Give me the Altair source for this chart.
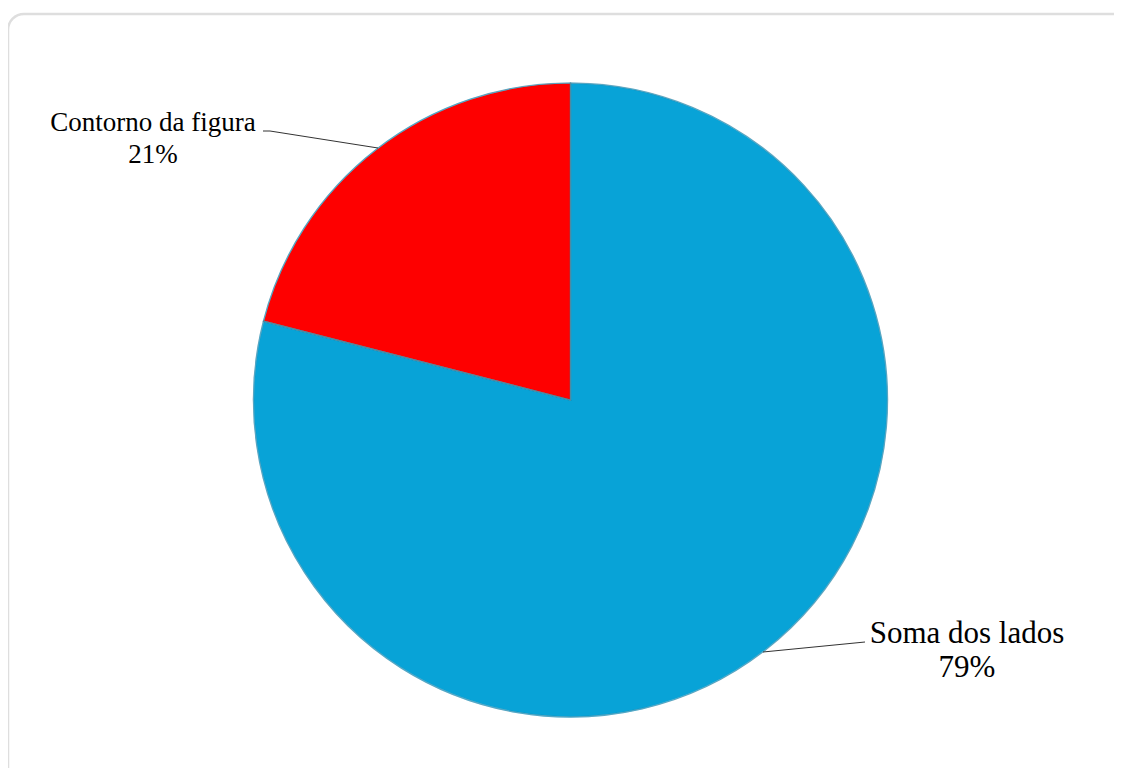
import altair as alt
import pandas as pd

categories = ["Soma dos lados", "Contorno da figura"]
values = [79, 21]
colors = ["#08A3D7", "#FE0000"]

df = pd.DataFrame({
    "categoria": categories,
    "valor": values,
    "ordem": list(range(len(categories))),
})
df["pct"] = df["valor"].astype(str) + "%"

W, H = 1106, 760
CX, CY, R = 562.5, 392, 317
FONT = "Liberation Serif"

frame = alt.Chart(pd.DataFrame({"a": [0]})).mark_rect(
    fill=None, stroke="#DEDEDE", strokeWidth=2.5, cornerRadius=16
).encode(x=alt.value(0), x2=alt.value(W + 40), y=alt.value(6), y2=alt.value(H + 40))

base = alt.Chart(df)

pie = base.mark_arc(radius=R, stroke="#5fd0f5", strokeWidth=1.2, strokeJoin="round").encode(
    theta=alt.Theta("valor:Q", stack=True),
    color=alt.Color("categoria:N", scale=alt.Scale(domain=categories, range=colors), legend=None),
    order=alt.Order("ordem:Q"),
    x=alt.value(CX), y=alt.value(CY),
)

rim = base.mark_arc(radius=R, fill=None, stroke="#3a4a55", strokeOpacity=0.3, strokeWidth=1.5).encode(
    theta=alt.Theta("valor:Q", stack=True),
    order=alt.Order("ordem:Q"),
    x=alt.value(CX), y=alt.value(CY),
)

def label(i, x, y, size, gap):
    sub = base.transform_filter(alt.datum.ordem == i)
    name = sub.mark_text(font=FONT, fontSize=size, color="black",
                         align="center", baseline="alphabetic").encode(
        text="categoria:N", x=alt.value(x), y=alt.value(y))
    pct = sub.mark_text(font=FONT, fontSize=size, color="black",
                        align="center", baseline="alphabetic").encode(
        text="pct:N", x=alt.value(x), y=alt.value(y + gap))
    return name + pct

lab_top = label(1, 145, 123, 27, 32)
lab_bot = label(0, 959, 635, 31, 34)

lead = pd.DataFrame({"a": [0]})
l1 = alt.Chart(lead).mark_rule(color="#333333", strokeWidth=1).encode(
    x=alt.value(255), x2=alt.value(262), y=alt.value(123), y2=alt.value(123))
l2 = alt.Chart(lead).mark_rule(color="#333333", strokeWidth=1).encode(
    x=alt.value(262), x2=alt.value(370), y=alt.value(123), y2=alt.value(140))
l3 = alt.Chart(lead).mark_rule(color="#333333", strokeWidth=1).encode(
    x=alt.value(755), x2=alt.value(857), y=alt.value(644), y2=alt.value(634))

chart = alt.layer(frame, pie, rim, l1, l2, l3, lab_top, lab_bot).properties(
    width=W, height=H, padding=0, autosize=alt.AutoSizeParams(type="none")
).configure_view(stroke=None)

chart.save("out.html", embed_options={"renderer": "svg", "actions": False})
